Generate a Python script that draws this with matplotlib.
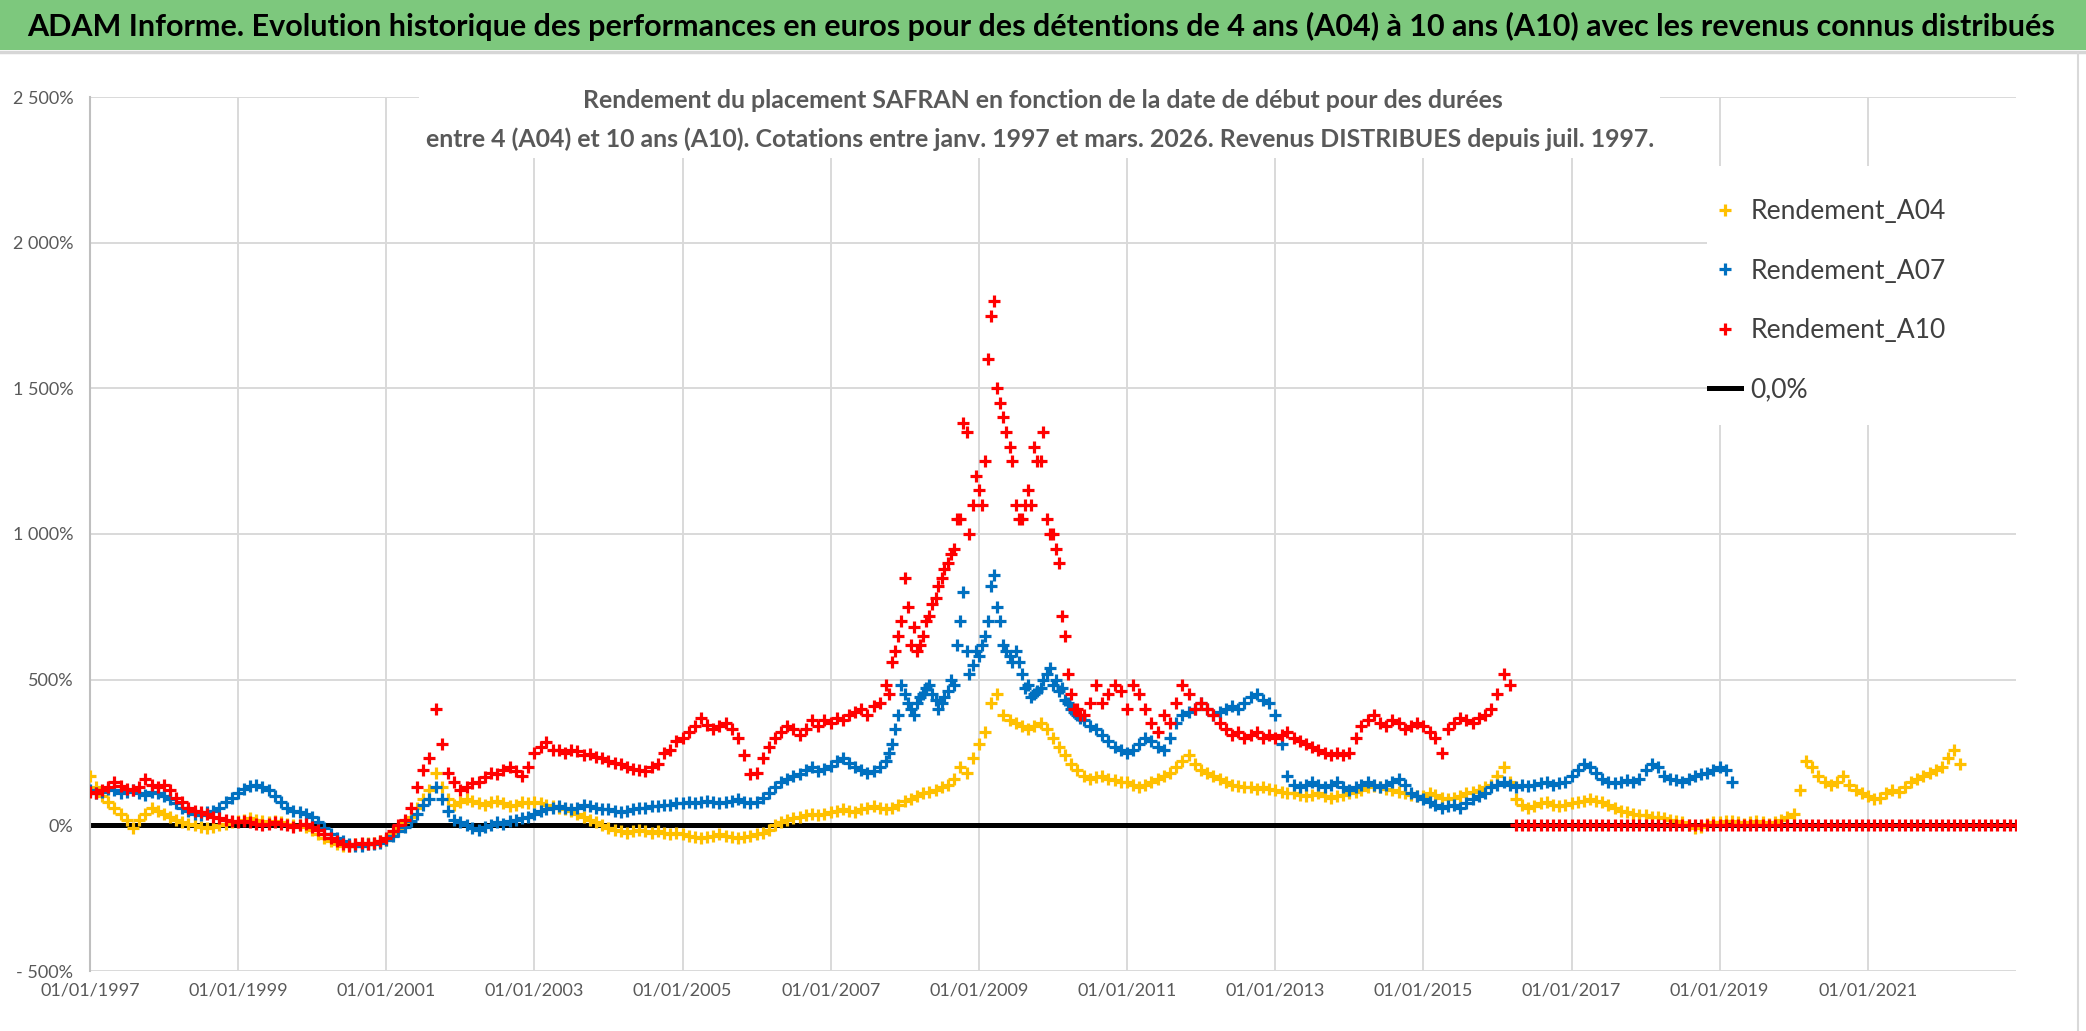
import matplotlib
matplotlib.use("Agg")
import matplotlib.pyplot as plt
import matplotlib.font_manager as fm
from matplotlib.patches import Rectangle
from matplotlib.lines import Line2D
import pandas as pd

# ---------------- data (monthly readings, % ) ----------------
a04_start = "1997-01-01"
a04_values = [
    170, 130, 100, 80, 60, 40, 20, -10, 20, 40, 60, 50,          # 1997
    40, 30, 20, 10, 5, 0, -5, -10, -5, 0, 5, 10,                 # 1998
    15, 20, 25, 20, 15, 10, 15, 10, 5, 0, 0, -5,                 # 1999
    -15, -30, -45, -55, -65, -70, -70, -65, -65, -60, -60, -55,  # 2000
    -50, -30, -10, 10, 30, 60, 90, 120, 180, 130, 90, 70,        # 2001
    80, 90, 85, 75, 70, 80, 85, 75, 65, 70, 80, 75,              # 2002
    80, 75, 70, 65, 60, 55, 50, 40, 30, 20, 10, 0,               # 2003
    -10, -15, -20, -25, -20, -15, -20, -25, -20, -25, -30, -25,  # 2004
    -30, -35, -40, -45, -40, -35, -30, -35, -40, -45, -40, -35,  # 2005
    -30, -25, -15, 0, 10, 20, 25, 30, 35, 40, 35, 40,            # 2006
    45, 50, 55, 50, 45, 55, 60, 65, 60, 55, 60, 70,              # 2007
    85, 90, 100, 110, 115, 120, 130, 140, 160, 200, 180, 230,    # 2008
    280, 320, 420, 450, 380, 360, 350, 340, 330, 340, 350, 330,  # 2009
    300, 270, 240, 210, 190, 170, 160, 165, 170, 160, 155, 150,  # 2010
    150, 140, 130, 140, 150, 160, 170, 180, 200, 220, 240, 210,  # 2011
    190, 180, 170, 160, 150, 140, 135, 130, 130, 125, 130, 125,  # 2012
    120, 115, 110, 110, 105, 100, 105, 110, 100, 95, 100, 105,   # 2013
    110, 115, 120, 130, 135, 130, 125, 120, 115, 110, 105, 100,  # 2014
    100, 110, 105, 95, 90, 95, 100, 110, 115, 120, 130, 140,     # 2015
    170, 200, 150, 90, 70, 60, 65, 75, 80, 70, 65, 70,           # 2016
    75, 80, 85, 90, 85, 80, 70, 60, 50, 45, 40, 35,              # 2017
    35, 30, 30, 25, 20, 15, 10, 0, -10, -5, 5, 10,               # 2018
    10, 15, 15, 10, 5, 10, 15, 10, 5, 10, 20, 30,                # 2019
    40, 120, 220, 200, 170, 150, 140, 150, 170, 140, 120, 110,   # 2020
    100, 90, 95, 110, 120, 115, 130, 150, 160, 170, 180, 190,    # 2021
    200, 230, 260, 210,                                          # 2022
]

a07_start = "1997-01-01"
a07_values = [
    120, 110, 115, 125, 120, 110, 115, 120, 110, 105, 115, 110,  # 1997
    100, 90, 75, 60, 50, 40, 35, 45, 50, 60, 80, 95,             # 1998
    110, 125, 135, 140, 130, 120, 100, 80, 60, 50, 45, 40,       # 1999
    30, 10, -10, -30, -45, -55, -65, -70, -70, -65, -65, -60,    # 2000
    -50, -35, -20, -5, 15, 40, 70, 90, 130, 90, 50, 20,          # 2001
    10, 0, -10, -15, -5, 0, 10, 5, 15, 20, 25, 30,               # 2002
    40, 50, 55, 60, 65, 60, 55, 60, 70, 65, 60, 55,              # 2003
    55, 50, 45, 50, 55, 60, 60, 65, 65, 70, 70, 75,              # 2004
    75, 80, 75, 80, 85, 80, 75, 80, 85, 90, 80, 75,              # 2005
    80, 95, 110, 130, 150, 160, 170, 175, 190, 200, 185, 195,    # 2006
    205, 220, 230, 215, 200, 190, 180, 185, 200, 220, 280, 380,  # 2007
    450, 400, 420, 450, 480, 430, 420, 460, 480, 700, 600, 550,  # 2008
    580, 650, 820, 750, 620, 580, 600, 520, 480, 450, 470, 520,  # 2009
    480, 460, 430, 400, 380, 360, 340, 330, 310, 290, 270, 260,  # 2010
    250, 260, 280, 300, 290, 270, 260, 300, 350, 380, 390, 400,  # 2011
    420, 400, 380, 390, 400, 410, 400, 420, 440, 450, 430, 420,  # 2012
    380, 280, 170, 140, 130, 140, 150, 140, 130, 140, 150, 130,  # 2013
    120, 130, 140, 150, 140, 130, 140, 150, 160, 140, 110, 100,  # 2014
    90, 80, 70, 60, 65, 70, 60, 75, 90, 100, 110, 130,           # 2015
    140, 150, 140, 130, 140, 135, 140, 145, 150, 140, 145, 150,  # 2016
    170, 190, 210, 200, 180, 160, 150, 145, 150, 155, 150, 160,  # 2017
    190, 210, 200, 170, 160, 155, 150, 160, 170, 175, 180, 190,  # 2018
    200, 190, 150,                                               # 2019
]
# extra mid-month readings in the volatile 2007-2010 stretch
a07_mid_start = "2007-10-15"
a07_mid_values = [
    250, 330, 480,                                               # 2007 (Oct-Dec)
    420, 380, 440, 470, 450, 400, 440, 500, 620, 800, 520, 600,  # 2008
    620, 700, 860, 700, 600, 560, 560, 470, 440, 460, 500, 540,  # 2009
    500, 470, 420, 390, 370,                                     # 2010 (Jan-May)
]

a10_start = "1997-01-01"
a10_values = [
    115, 110, 120, 130, 150, 135, 125, 120, 130, 160, 140, 130,          # 1997
    140, 120, 95, 80, 60, 50, 45, 40, 30, 25, 20, 15,                    # 1998
    10, 15, 10, 5, 0, 5, 10, 5, 0, -5, 0, 5,                             # 1999
    -5, -15, -30, -45, -55, -65, -70, -65, -60, -65, -60, -55,           # 2000
    -45, -20, 0, 20, 60, 130, 190, 230, 400, 280, 180, 150,              # 2001
    120, 130, 145, 150, 165, 180, 175, 190, 200, 185, 170, 200,          # 2002
    250, 270, 285, 260, 260, 250, 260, 255, 240, 245, 235, 230,          # 2003
    220, 215, 210, 200, 195, 190, 185, 200, 210, 250, 260, 290,          # 2004
    300, 320, 340, 370, 345, 330, 340, 350, 330, 300, 240, 175,          # 2005
    180, 230, 270, 300, 320, 340, 330, 310, 330, 360, 340, 360,          # 2006
    350, 370, 360, 380, 390, 400, 380, 410, 420, 480, 560, 650,          # 2007
    850, 620, 600, 650, 720, 780, 850, 900, 950, 1050, 1350, 1100,       # 2008
    1150, 1250, 1750, 1500, 1400, 1300, 1100, 1050, 1150, 1300, 1250, 1050,  # 2009
    1000, 900, 650, 450, 400, 380, 420, 480, 420, 450, 480, 460,         # 2010
    400, 480, 450, 400, 350, 320, 380, 350, 420, 480, 450, 400,          # 2011
    420, 400, 380, 350, 330, 310, 320, 300, 310, 320, 300, 310,          # 2012
    300, 310, 320, 300, 290, 280, 270, 260, 250, 240, 250, 240,          # 2013
    250, 300, 340, 360, 380, 350, 340, 360, 350, 330, 340, 350,          # 2014
    340, 320, 300, 250, 330, 350, 370, 360, 350, 370, 380, 400,          # 2015
    450, 520, 480,                                                       # 2016
]
a10_mid_start = "2007-10-15"
a10_mid_values = [
    450, 600, 700,                                                       # 2007 (Oct-Dec)
    750, 680, 620, 700, 760, 820, 880, 930, 1050, 1380, 1000, 1200,      # 2008
    1100, 1600, 1800, 1450, 1350, 1250, 1050, 1100, 1100, 1250, 1350, 1000,  # 2009
    950, 720, 520, 400, 380,                                             # 2010 (Jan-May)
]
# A10 start dates without a full 10-year window are reported as 0
a10_tail_start = "2016-04-01"
a10_tail_values = [
    0, 0, 0, 0, 0, 0, 0, 0, 0,                # 2016
    0, 0, 0, 0, 0, 0, 0, 0, 0, 0, 0, 0,       # 2017
    0, 0, 0, 0, 0, 0, 0, 0, 0, 0, 0, 0,       # 2018
    0, 0, 0, 0, 0, 0, 0, 0, 0, 0, 0, 0,       # 2019
    0, 0, 0, 0, 0, 0, 0, 0, 0, 0, 0, 0,       # 2020
    0, 0, 0, 0, 0, 0, 0, 0, 0, 0, 0, 0,       # 2021
    0, 0, 0, 0, 0, 0, 0, 0, 0, 0, 0, 0,       # 2022
    0,                                        # 2023
]

zero_line_dates = ["1997-01-01", "2023-01-01"]
zero_line_values = [0, 0]

x_limits = ["1997-01-01", "2023-01-01"]
x_tick_dates = ["1997-01-01", "1999-01-01", "2001-01-01", "2003-01-01", "2005-01-01",
                "2007-01-01", "2009-01-01", "2011-01-01", "2013-01-01", "2015-01-01",
                "2017-01-01", "2019-01-01", "2021-01-01"]
x_tick_labels = ["01/01/1997", "01/01/1999", "01/01/2001", "01/01/2003", "01/01/2005",
                 "01/01/2007", "01/01/2009", "01/01/2011", "01/01/2013", "01/01/2015",
                 "01/01/2017", "01/01/2019", "01/01/2021"]
y_ticks = [-500, 0, 500, 1000, 1500, 2000, 2500]
y_tick_labels = ["- 500%", "0%", "500%", "1 000%", "1 500%", "2 000%", "2 500%"]

series_names = ["Rendement_A04", "Rendement_A07", "Rendement_A10", "0,0%"]
series_colors = ["#FFC000", "#0070C0", "#FF0000", "#000000"]

title_text = ("ADAM Informe. Evolution historique des performances en euros pour des "
              "détentions de 4 ans (A04) à 10 ans (A10) avec les revenus connus distribués")
subtitle_1 = "Rendement du placement SAFRAN en fonction de la date de début pour des durées"
subtitle_2 = ("entre 4 (A04) et 10 ans (A10). Cotations entre janv. 1997 et mars. 2026. "
              "Revenus DISTRIBUES depuis juil. 1997.")

# ---------------- fonts ----------------
installed = {f.name for f in fm.fontManager.ttflist}
family = "DejaVu Sans"
for cand in ["Lato", "Liberation Sans Narrow", "Roboto", "Open Sans", "Noto Sans"]:
    if cand in installed:
        family = cand
        break
plt.rcParams["font.family"] = [family, "DejaVu Sans"]

W, H = 2086, 1031
fig = plt.figure(figsize=(W / 100, H / 100), dpi=100)
fig.patch.set_facecolor("white")


def fx(px):
    return px / W


def fy(py):
    return 1 - py / H


renderer = fig.canvas.get_renderer()


def fit_width(txt, target_px):
    w = txt.get_window_extent(renderer=renderer).width
    txt.set_fontsize(txt.get_fontsize() * target_px / w)


def fitted_size(s, target_px, **kw):
    p = fig.text(0, 0, s, fontsize=20, **kw)
    fit_width(p, target_px)
    size = p.get_fontsize()
    p.remove()
    return size


def monthly(start, values):
    return pd.date_range(start, periods=len(values), freq="MS")


def mid_monthly(start, values):
    return pd.date_range(start, periods=len(values), freq="MS") + pd.Timedelta(days=14)


tick_fs = fitted_size(x_tick_labels[0], 100)

# ---------------- axes ----------------
ax_l, ax_r, ax_t, ax_b = 90, 2016, 97, 971
ax = fig.add_axes([fx(ax_l), fy(ax_b), fx(ax_r - ax_l), (ax_b - ax_t) / H])
ax.set_facecolor("white")

d04 = monthly(a04_start, a04_values)
d07 = monthly(a07_start, a07_values)
d07m = mid_monthly("2007-10-01", a07_mid_values)
d10 = monthly(a10_start, a10_values)
d10m = mid_monthly("2007-10-01", a10_mid_values)
d10t = monthly(a10_tail_start, a10_tail_values)

ax.plot(pd.to_datetime(zero_line_dates), zero_line_values, color=series_colors[3],
        lw=3.6, zorder=2, solid_capstyle="butt")
mk = dict(linestyle="none", marker="+", markersize=8.5, mew=2.3)
ax.plot(d04, a04_values, color=series_colors[0], zorder=3, **mk)
ax.plot(d07, a07_values, color=series_colors[1], zorder=4, **mk)
ax.plot(d07m, a07_mid_values, color=series_colors[1], zorder=4, **mk)
ax.plot(d10, a10_values, color=series_colors[2], zorder=5, **mk)
ax.plot(d10m, a10_mid_values, color=series_colors[2], zorder=5, **mk)
ax.plot(d10t, a10_tail_values, color=series_colors[2], zorder=5, **mk)

ax.set_xlim(pd.to_datetime(x_limits[0]), pd.to_datetime(x_limits[1]))
ax.set_ylim(-500, 2500)
ax.set_xticks(pd.to_datetime(x_tick_dates))
ax.set_xticklabels(x_tick_labels)
ax.set_yticks(y_ticks)
ax.set_yticklabels(y_tick_labels)
ax.grid(True, color="#D9D9D9", lw=1.4, zorder=0)
ax.set_axisbelow(True)
for s in ["top", "right", "bottom"]:
    ax.spines[s].set_visible(False)
ax.spines["left"].set_color("#BFBFBF")
ax.spines["left"].set_linewidth(1.5)
ax.tick_params(axis="both", length=0, labelsize=tick_fs, labelcolor="#595959")
ax.tick_params(axis="x", pad=8)
ax.tick_params(axis="y", pad=12)

# ---------------- header bar ----------------
fig.patches.append(Rectangle((0, fy(50)), 1, 50 / H, transform=fig.transFigure,
                             facecolor="#7DC87D", edgecolor="none", zorder=0))
fig.lines.append(Line2D([0, 1], [fy(51.5), fy(51.5)], transform=fig.transFigure,
                        color="#D6D6D6", lw=2.5))
fig.lines.append(Line2D([fx(2078), fx(2078)], [fy(53), 0], transform=fig.transFigure,
                        color="#D9D9D9", lw=1.5))
t = fig.text(fx(1041), fy(26), title_text, ha="center", va="center",
             fontsize=28, fontweight="bold", color="black")
fit_width(t, 2029)

# ---------------- subtitle (white box over the grid) ----------------
fig.patches.append(Rectangle((fx(419), fy(158)), fx(1660 - 419), (158 - 80) / H,
                             transform=fig.transFigure, facecolor="white",
                             edgecolor="none", zorder=1))
s1 = fig.text(fx(1043), fy(101), subtitle_1, ha="center", va="center",
              fontsize=16, fontweight="bold", color="#595959", zorder=3)
s2 = fig.text(fx(1040), fy(139), subtitle_2, ha="center", va="center",
              fontsize=16, fontweight="bold", color="#595959", zorder=3)
fit_width(s2, 1233)
s1.set_fontsize(s2.get_fontsize())

# ---------------- legend (white box over the grid) ----------------
fig.patches.append(Rectangle((fx(1707), fy(425)), fx(2016 - 1707), (425 - 166) / H,
                             transform=fig.transFigure, facecolor="white",
                             edgecolor="none", zorder=1))
handles = [
    Line2D([], [], color=series_colors[0], **mk),
    Line2D([], [], color=series_colors[1], **mk),
    Line2D([], [], color=series_colors[2], **mk),
    Line2D([], [], color=series_colors[3], lw=3.6),
]
leg_fs = fitted_size(series_names[0], 196)
leg = fig.legend(handles, series_names, loc="upper left",
                 bbox_to_anchor=(fx(1709), fy(199)), bbox_transform=fig.transFigure,
                 frameon=False, fontsize=leg_fs, handlelength=1.2, handletextpad=0.35,
                 labelspacing=1.3, borderpad=0, borderaxespad=0)
for txt in leg.get_texts():
    txt.set_color("#404040")
leg.set_zorder(5)

fig.savefig("out.png", dpi=100, facecolor="white")
